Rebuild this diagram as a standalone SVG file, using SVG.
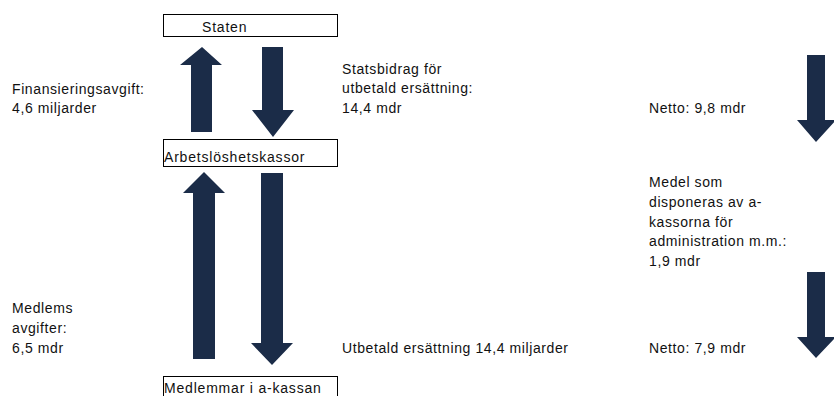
<svg xmlns="http://www.w3.org/2000/svg" width="834" height="396" viewBox="0 0 834 396">
<style>
  .box { fill: #ffffff; stroke: #000000; stroke-width: 1; }
  .lbl { font-family: "Liberation Sans", Arial, sans-serif; font-size: 14px; letter-spacing: 0.6px; fill: #111111; }
  .nodetxt { font-family: "Liberation Sans", Arial, sans-serif; font-size: 14px; letter-spacing: 0.8px; fill: #111111; }
  .arrow { fill: #1b2c48; }
</style>
<rect width="834" height="396" fill="#ffffff"/>

<g id="node-staten">
  <rect class="box" x="163.5" y="14.5" width="174" height="22"/>
  <text class="nodetxt" x="202" y="32">Staten</text>
</g>
<g id="node-arbetsloshetskassor">
  <rect class="box" x="163.5" y="139.5" width="174" height="27"/>
  <text class="nodetxt" x="164" y="162">Arbetslöshetskassor</text>
</g>
<g id="node-medlemmar">
  <rect class="box" x="163.5" y="376.5" width="174" height="24"/>
  <text class="nodetxt" x="164" y="393">Medlemmar i a-kassan</text>
</g>

<g id="connectors">
  <polygon class="arrow" points="191,132 212,132 212,65 222,65 202,47 180,65 191,65"/>
  <polygon class="arrow" points="262,47 283,47 283,110 294,110 273,137 252,110 262,110"/>
  <polygon class="arrow" points="193,359 215,359 215,193 225,193 204,172 183,193 193,193"/>
  <polygon class="arrow" points="261,173 283,173 283,343 293,343 272,365 251,343 261,343"/>
  <polygon class="arrow" points="807,55 825,55 825,120 836,120 816,142 797,120 807,120"/>
  <polygon class="arrow" points="807,272 825,272 825,337 836,337 816,358 797,337 807,337"/>
</g>

<g id="labels">
  <text class="lbl" x="12" y="94">Finansieringsavgift:</text>
  <text class="lbl" x="12" y="113">4,6 miljarder</text>

  <text class="lbl" x="342" y="74">Statsbidrag för</text>
  <text class="lbl" x="342" y="93">utbetald ersättning:</text>
  <text class="lbl" x="342" y="113">14,4 mdr</text>

  <text class="lbl" x="649" y="113">Netto: 9,8 mdr</text>

  <text class="lbl" x="649" y="187">Medel som</text>
  <text class="lbl" x="649" y="207">disponeras av a-</text>
  <text class="lbl" x="649" y="227">kassorna för</text>
  <text class="lbl" x="649" y="246">administration m.m.:</text>
  <text class="lbl" x="649" y="266">1,9 mdr</text>

  <text class="lbl" x="12" y="313">Medlems</text>
  <text class="lbl" x="12" y="333">avgifter:</text>
  <text class="lbl" x="12" y="353">6,5 mdr</text>

  <text class="lbl" x="342" y="353">Utbetald ersättning 14,4 miljarder</text>
  <text class="lbl" x="649" y="353">Netto: 7,9 mdr</text>
</g>
</svg>
